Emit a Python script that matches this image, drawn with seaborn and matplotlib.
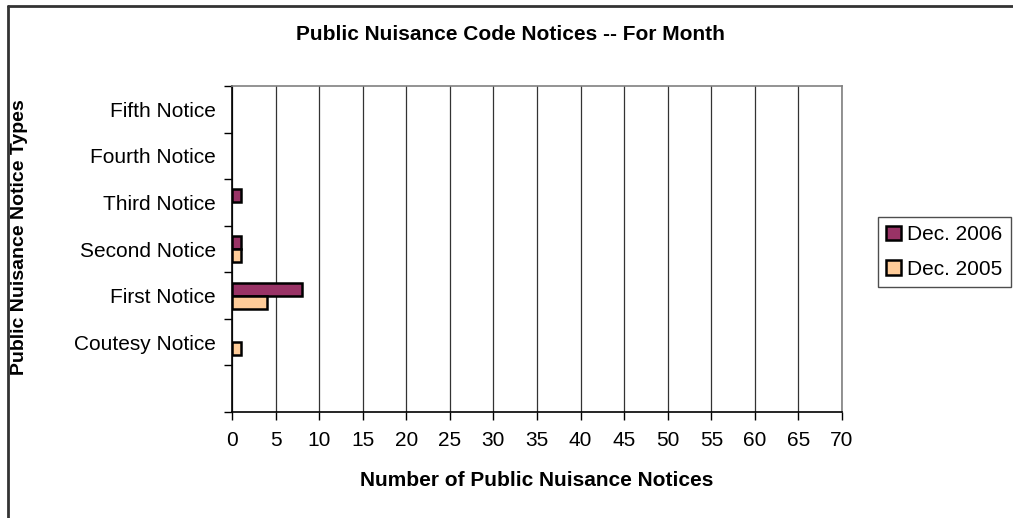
import numpy as np
import pandas as pd
import matplotlib
matplotlib.use("Agg")
import matplotlib.pyplot as plt
import seaborn as sns
from matplotlib.lines import Line2D
from matplotlib.patches import Patch
from matplotlib.ticker import MultipleLocator, FixedLocator

# data (top to bottom, bottom slot is empty in the original)
categories = ["Fifth Notice", "Fourth Notice", "Third Notice", "Second Notice",
              "First Notice", "Coutesy Notice", " "]
series = ["Dec. 2006", "Dec. 2005"]
dec_2006 = [0, 0, 1, 1, 8, 0]
dec_2005 = [0, 0, 0, 1, 4, 1]
colors = ["#993366", "#FFCC99"]

rows = []
for cat, v6, v5 in zip(categories[:-1], dec_2006, dec_2005):
    rows.append({"type": cat, "series": series[0], "count": v6})
    rows.append({"type": cat, "series": series[1], "count": v5})
df = pd.DataFrame(rows)
df = df[df["count"] > 0]  # zero bars are not drawn

sns.set_theme(style="white")
plt.rcParams["font.family"] = ["Liberation Sans", "DejaVu Sans"]
for key in ["text.color", "axes.labelcolor", "xtick.color", "ytick.color"]:
    plt.rcParams[key] = "black"

FS = 15

fig = plt.figure(figsize=(10.13, 5.18), dpi=100)
ax = fig.add_axes([232 / 1013, 1 - 412 / 518, (842 - 232) / 1013, (412 - 86) / 518])

sns.barplot(data=df, y="type", x="count", hue="series", order=categories,
            hue_order=series, palette=colors, orient="h", width=0.56,
            edgecolor="black", linewidth=1.8, saturation=1, ax=ax, legend=False)

ax.set_xlim(0, 70)
ax.set_ylim(len(categories) - 0.5, -0.5)
ax.xaxis.set_major_locator(MultipleLocator(5))
ax.grid(axis="x", color="#333333", linewidth=0.9)
ax.set_axisbelow(True)

ax.yaxis.set_major_locator(FixedLocator(range(len(categories))))
ax.set_yticklabels(categories)
ax.yaxis.set_minor_locator(FixedLocator(np.arange(-0.5, len(categories), 1)))
ax.tick_params(axis="y", which="major", length=0, labelsize=FS, pad=11.5)
ax.tick_params(axis="y", which="minor", length=6, width=1, color="black", direction="out", left=True)
ax.tick_params(axis="x", length=6, width=1, color="black", direction="out", bottom=True,
               labelsize=FS, pad=8)

for side in ["top", "right"]:
    ax.spines[side].set_color("#808080")
    ax.spines[side].set_linewidth(1.2)
for side in ["left", "bottom"]:
    ax.spines[side].set_color("black")
    ax.spines[side].set_linewidth(1.2)

ax.set_xlabel("Number of Public Nuisance Notices", fontsize=FS, fontweight="bold", labelpad=15)
ax.set_ylabel("")
fig.text(20 / 1013, 1 - 237 / 518, "Public Nuisance Notice Types", rotation=90,
         ha="center", va="center", fontsize=14, fontweight="bold")
fig.text(510 / 1013, 1 - 35 / 518, "Public Nuisance Code Notices -- For Month",
         ha="center", va="center", fontsize=FS, fontweight="bold")

handles = [Patch(facecolor=c, edgecolor="black", linewidth=1.8) for c in colors]
fig.legend(handles, series, loc="upper left", bbox_to_anchor=(878 / 1013, 1 - 217 / 518),
           frameon=True, fancybox=False, edgecolor="#222222", fontsize=FS,
           handlelength=0.7, handleheight=0.7, handletextpad=0.3, borderpad=0.4,
           labelspacing=0.75, borderaxespad=0)

# outer chart border (cut off at right and bottom like the original)
fig.add_artist(Line2D([8 / 1013, 1.0], [1 - 6 / 518, 1 - 6 / 518], transform=fig.transFigure,
                      color="#333333", linewidth=2))
fig.add_artist(Line2D([8 / 1013, 8 / 1013], [1 - 6 / 518, 0.0], transform=fig.transFigure,
                      color="#333333", linewidth=2))

fig.savefig("out.png", dpi=100, facecolor="white")
